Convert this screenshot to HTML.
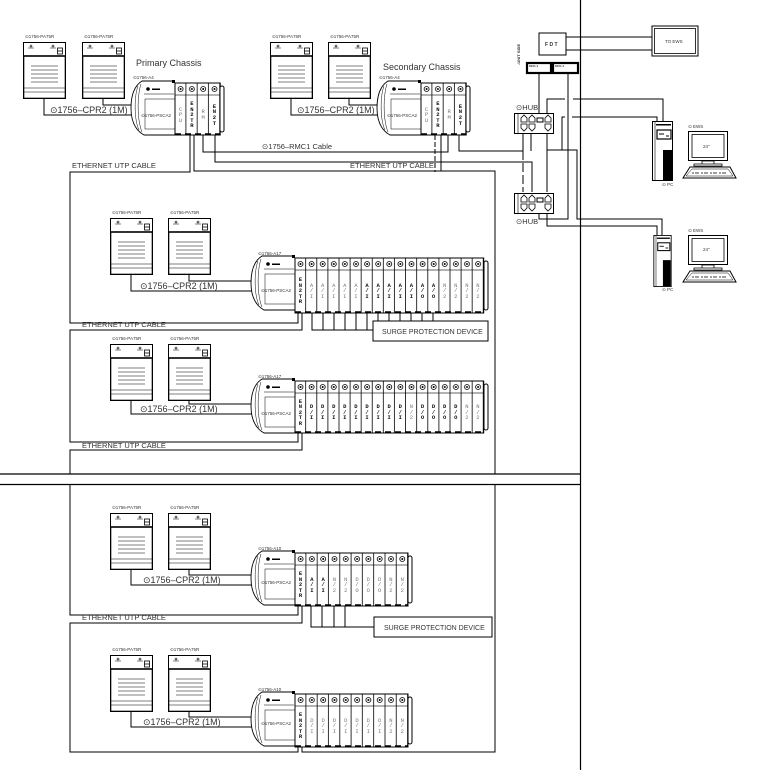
<!DOCTYPE html>
<html><head><meta charset="utf-8"><style>
body{margin:0;width:768px;height:770px;position:relative;background:#fff;overflow:hidden}
svg{position:absolute;left:0;top:0}
.t{font-family:"Liberation Sans","DejaVu Sans",sans-serif;fill:#333}
.r{position:absolute;display:flex}
.r>div{display:flex;align-items:center;justify-content:center;flex:none}
.r span{display:block;width:3px;margin-left:-0.5px;word-break:break-all;overflow-wrap:anywhere;font:bold 5.5px/5.6px "Liberation Mono",monospace;color:#111;text-align:left}
.r span.g{color:#777;font-weight:normal}
</style></head><body>
<svg width="768" height="770" viewBox="0 0 768 770">
<defs>
<pattern id="pA" patternUnits="userSpaceOnUse" x="175" y="83" width="11.3" height="200"><rect width="11.3" height="200" fill="#fff"/><line x1="10.9" y1="0" x2="10.9" y2="200" stroke="#000" stroke-width=".8"/><line x1="0" y1="12" x2="11.3" y2="12" stroke="#000" stroke-width=".6"/><circle cx="5.6" cy="6" r="2.5" fill="none" stroke="#000" stroke-width=".8"/><circle cx="5.6" cy="6" r="1" fill="#000"/></pattern>
<pattern id="pB" patternUnits="userSpaceOnUse" x="421" y="83" width="11.3" height="200"><rect width="11.3" height="200" fill="#fff"/><line x1="10.9" y1="0" x2="10.9" y2="200" stroke="#000" stroke-width=".8"/><line x1="0" y1="12" x2="11.3" y2="12" stroke="#000" stroke-width=".6"/><circle cx="5.6" cy="6" r="2.5" fill="none" stroke="#000" stroke-width=".8"/><circle cx="5.6" cy="6" r="1" fill="#000"/></pattern>
<pattern id="pC" patternUnits="userSpaceOnUse" x="295" y="258" width="11.1" height="200"><rect width="11.1" height="200" fill="#fff"/><line x1="10.7" y1="0" x2="10.7" y2="200" stroke="#000" stroke-width=".8"/><line x1="0" y1="12" x2="11.1" y2="12" stroke="#000" stroke-width=".6"/><circle cx="5.5" cy="6" r="2.5" fill="none" stroke="#000" stroke-width=".8"/><circle cx="5.5" cy="6" r="1" fill="#000"/></pattern>
<pattern id="pD" patternUnits="userSpaceOnUse" x="295" y="381" width="11.1" height="200"><rect width="11.1" height="200" fill="#fff"/><line x1="10.7" y1="0" x2="10.7" y2="200" stroke="#000" stroke-width=".8"/><line x1="0" y1="12" x2="11.1" y2="12" stroke="#000" stroke-width=".6"/><circle cx="5.5" cy="6" r="2.5" fill="none" stroke="#000" stroke-width=".8"/><circle cx="5.5" cy="6" r="1" fill="#000"/></pattern>
<pattern id="pE" patternUnits="userSpaceOnUse" x="295" y="553" width="11.3" height="200"><rect width="11.3" height="200" fill="#fff"/><line x1="10.9" y1="0" x2="10.9" y2="200" stroke="#000" stroke-width=".8"/><line x1="0" y1="12" x2="11.3" y2="12" stroke="#000" stroke-width=".6"/><circle cx="5.6" cy="6" r="2.5" fill="none" stroke="#000" stroke-width=".8"/><circle cx="5.6" cy="6" r="1" fill="#000"/></pattern>
<pattern id="pF" patternUnits="userSpaceOnUse" x="295" y="694" width="11.3" height="200"><rect width="11.3" height="200" fill="#fff"/><line x1="10.9" y1="0" x2="10.9" y2="200" stroke="#000" stroke-width=".8"/><line x1="0" y1="12" x2="11.3" y2="12" stroke="#000" stroke-width=".6"/><circle cx="5.6" cy="6" r="2.5" fill="none" stroke="#000" stroke-width=".8"/><circle cx="5.6" cy="6" r="1" fill="#000"/></pattern>
<symbol id="body" viewBox="0 0 45 56" width="45" height="56">
<path d="M12,1 H45 V55 H14 C5,50 1,40 1,28 C1,15 4,6 12,1 Z" fill="#fff" stroke="#000" stroke-width=".9"/>
<path d="M8,6 C4,16 4,40 9,50" fill="none" stroke="#000" stroke-width=".5"/>
<path d="M11,4 C7,16 7,40 12,52" fill="none" stroke="#000" stroke-width=".5"/>
<line x1="14" y1="14" x2="44" y2="14" stroke="#000" stroke-width=".6"/>
<rect x="15" y="19" width="30" height="30" fill="none" stroke="#000" stroke-width=".5"/>
<circle cx="18" cy="9" r="1.8" fill="#000"/>
<rect x="22" y="8.5" width="8" height="1.5" fill="#000"/>
<rect x="42" y="0" width="3" height="3" fill="#000"/>
</symbol>
<symbol id="ps" viewBox="0 0 43 57" width="43" height="57">
<rect x=".5" y=".5" width="42" height="56" fill="#fff" stroke="#000"/>
<rect x=".5" y="14" width="42" height="42.5" fill="none" stroke="#000" stroke-width="1.6"/>
<circle cx="8" cy="4" r="1" fill="none" stroke="#000" stroke-width=".6"/><circle cx="30" cy="4" r="1" fill="none" stroke="#000" stroke-width=".6"/>
<line x1="5" y1="6" x2="11" y2="6" stroke="#000" stroke-width=".5"/><line x1="27" y1="6" x2="33" y2="6" stroke="#000" stroke-width=".5"/>
<rect x="34.5" y="6" width="5" height="6" fill="none" stroke="#000" stroke-width=".8"/><line x1="34.5" y1="9" x2="39.5" y2="9" stroke="#000" stroke-width=".8"/>
<g stroke="#000" stroke-width=".6"><line x1="8" y1="24" x2="35" y2="24"/><line x1="8" y1="28" x2="35" y2="28"/><line x1="8" y1="32" x2="35" y2="32"/><line x1="8" y1="36" x2="35" y2="36"/><line x1="8" y1="40" x2="35" y2="40"/><line x1="1" y1="46" x2="42" y2="46"/><line x1="1" y1="50" x2="42" y2="50"/></g>
</symbol>
<symbol id="hub" viewBox="0 0 40 21" width="40" height="21">
<rect x=".5" y=".5" width="39" height="20" fill="#fff" stroke="#000"/>
<line x1="4" y1="1" x2="4" y2="20" stroke="#000" stroke-width=".6"/>
<g fill="none" stroke="#000" stroke-width=".8"><path d="M7,9 V5 L10,2 L13,5 V9 Z"/><path d="M15,9 V5 L18,2 L21,5 V9 Z"/><path d="M31,9 V5 L34,2 L37,5 V9 Z"/><path d="M7,11 V15 L10,18 L13,15 V11 Z"/><path d="M15,11 V15 L18,18 L21,15 V11 Z"/><path d="M31,11 V15 L34,18 L37,15 V11 Z"/></g>
<rect x="23" y="5" width="6" height="4" fill="none" stroke="#000"/>
</symbol>
<symbol id="pc" viewBox="0 0 21 60" width="21" height="60">
<rect x=".5" y=".5" width="20" height="59" fill="#fff" stroke="#000"/>
<line x1="3" y1="1" x2="3" y2="59" stroke="#000" stroke-width=".6"/>
<rect x="4" y="3" width="15" height="1.5" fill="#000"/>
<rect x="5" y="9" width="14" height="9" fill="none" stroke="#000" stroke-width="1.2"/>
<line x1="7" y1="13" x2="12" y2="13" stroke="#000"/><line x1="14" y1="15" x2="17" y2="15" stroke="#000"/>
<rect x="11" y="29" width="9" height="30" fill="#000"/>
</symbol>
<symbol id="mon" viewBox="-6 0 56 50" width="56" height="50">
<rect x=".5" y=".5" width="39" height="29" fill="#fff" stroke="#000"/>
<rect x="4" y="3.5" width="32" height="23" fill="none" stroke="#000" stroke-width=".8"/>
<path d="M14,30 H26 V33 H14 Z M6,33 H34 V35 H6 Z" fill="none" stroke="#000" stroke-width=".8"/>
<polygon points="-5,47 48,47 42,36 2,36" fill="#fff" stroke="#000"/>
<polygon points="-2,45 45,45 40,38 4,38" fill="none" stroke="#000" stroke-width=".5"/>
<line x1="4" y1="42" x2="40" y2="42" stroke="#000" stroke-width=".8" stroke-dasharray="2 1 4 2"/>
</symbol>
</defs>

<g stroke="#000" stroke-width="1.2" fill="none">
<line x1="580.5" y1="0" x2="580.5" y2="770"/>
<line x1="0" y1="474" x2="580" y2="474"/>
<line x1="0" y1="484.5" x2="580" y2="484.5"/>
</g>

<g stroke="#000" stroke-width="1" fill="none">
<path d="M190,135 V172 H70 V323 H298 V313"/>
<path d="M194,135 V171 H495 V474"/>
<path d="M302,313 V330 H70 V442 H298 V433"/>
<path d="M302,433 V450 H70 V474"/>
<path d="M70,485 V615 H298 V606"/>
<path d="M302,606 V623 H70 V752 H298 V747"/>
<path d="M302,747 V752 H495 V485"/>
<path d="M441,135 V171"/>
<path d="M435,135 V172" stroke-dasharray="5 2"/>
<path d="M203,135 V152 H448 V135"/>
<path d="M215,135 V162 H532 V192"/>
<path d="M459,135 V151 H523"/>
<path d="M523,134 V151"/><path d="M523,151 V192" stroke-dasharray="9 3"/>
<path d="M531,134 V151"/>
<path d="M547,192 V134"/>
<path d="M547,150 H577 V219 H662 V235"/>
<path d="M547,113 V99 H565 M573,99 H663 V121"/>
<path d="M562,150 V117 H565 M572,117 H657 V121"/>
<path d="M547,214 V226 H657 V235"/>
<path d="M539,73 V113"/>
<path d="M568,73 V219 H539 V214"/>
<path d="M566,37 H652 M566,50 H652"/>
<path d="M44,98 V115 H132 M103,98 V105 H132"/>
<path d="M291,98 V115 H378 M349,98 V105 H378"/>
<path d="M131,274 V291 H252 M189,274 V281 H252"/>
<path d="M131,400 V414 H252 M189,400 V404 H252"/>
<path d="M131,569 V585 H252 M189,569 V575 H252"/>
<path d="M131,711 V727 H252 M189,711 V717 H252"/>
<path d="M312,313 V330 H373 M323,313 V330 M334,313 V330 M345,313 V330 M356,313 V330 M367,313 V330 M378,313 V321 M389,313 V321 M400,313 V321 M411,313 V321 M422,313 V321 M433,313 V321"/>
<path d="M311,606 V627 H374 M322,606 V627 M334,606 V627 M345,606 V627"/>
<rect x="373" y="321" width="115" height="20"/>
<rect x="374" y="617" width="118" height="20"/>
<rect x="539" y="33" width="27" height="22" fill="#fff"/>
<rect x="652" y="26" width="46" height="30"/>
<rect x="654.5" y="28.5" width="41" height="25" stroke-width=".8"/>
<rect x="527" y="63" width="24" height="10" stroke-width="2.2" fill="#fff"/>
<rect x="553" y="63" width="25" height="10" stroke-width="2.2" fill="#fff"/>
</g>

<use href="#ps" x="23" y="42"/><use href="#ps" x="82" y="42"/>
<use href="#ps" x="270" y="42"/><use href="#ps" x="328" y="42"/>
<use href="#ps" x="110" y="218"/><use href="#ps" x="168" y="218"/>
<use href="#ps" x="110" y="344"/><use href="#ps" x="168" y="344"/>
<use href="#ps" x="110" y="513"/><use href="#ps" x="168" y="513"/>
<use href="#ps" x="110" y="655"/><use href="#ps" x="168" y="655"/>

<use href="#body" x="130" y="80"/><use href="#body" x="376" y="80"/>
<use href="#body" x="250" y="255"/><use href="#body" x="250" y="378"/>
<use href="#body" x="250" y="550"/><use href="#body" x="250" y="691"/>
<g stroke="#000" stroke-width="1">
<rect x="175" y="83" width="45.2" height="52" fill="url(#pA)"/>
<rect x="421" y="83" width="45.2" height="52" fill="url(#pB)"/>
<rect x="295" y="258" width="188.7" height="55" fill="url(#pC)"/>
<rect x="295" y="381" width="188.7" height="52" fill="url(#pD)"/>
<rect x="295" y="553" width="113" height="53" fill="url(#pE)"/>
<rect x="295" y="694" width="113" height="53" fill="url(#pF)"/>
<g fill="#fff"><rect x="220" y="86" width="4" height="46" rx="2"/><rect x="466" y="86" width="4" height="46" rx="2"/><rect x="484" y="261" width="4" height="49" rx="2"/><rect x="484" y="384" width="4" height="46" rx="2"/><rect x="408" y="556" width="4" height="47" rx="2"/><rect x="408" y="697" width="4" height="47" rx="2"/></g>
</g>
<g stroke="#000" stroke-width="1.6" stroke-dasharray="6 4"><line x1="175" y1="134" x2="220" y2="134"/><line x1="421" y1="134" x2="466" y2="134"/><line x1="295" y1="312" x2="484" y2="312"/><line x1="295" y1="432" x2="484" y2="432"/><line x1="295" y1="605" x2="408" y2="605"/><line x1="295" y1="746" x2="408" y2="746"/></g>

<use href="#hub" x="514" y="113"/><use href="#hub" x="514" y="193"/>
<use href="#pc" x="652" y="121"/><use href="#pc" x="652" y="235" height="52"/>
<use href="#mon" x="682" y="131"/><use href="#mon" x="682" y="235"/>

<g class="t" font-size="4.5">
<text x="25" y="38">⊙1756-PA75R</text><text x="84" y="38">⊙1756-PA75R</text>
<text x="272" y="38">⊙1756-PA75R</text><text x="330" y="38">⊙1756-PA75R</text>
<text x="112" y="214">⊙1756-PA75R</text><text x="170" y="214">⊙1756-PA75R</text>
<text x="112" y="340">⊙1756-PA75R</text><text x="170" y="340">⊙1756-PA75R</text>
<text x="112" y="509">⊙1756-PA75R</text><text x="170" y="509">⊙1756-PA75R</text>
<text x="112" y="651">⊙1756-PA75R</text><text x="170" y="651">⊙1756-PA75R</text>
<text x="133" y="79">⊙1756-A4</text><text x="379" y="79">⊙1756-A4</text>
<text x="258" y="255">⊙1756-A17</text><text x="258" y="378">⊙1756-A17</text>
<text x="258" y="550">⊙1756-A10</text><text x="258" y="691">⊙1756-A10</text>
<text x="141" y="117">⊙1756-PSCA2</text><text x="387" y="117">⊙1756-PSCA2</text>
<text x="261" y="292">⊙1756-PSCA2</text><text x="261" y="415">⊙1756-PSCA2</text>
<text x="261" y="584">⊙1756-PSCA2</text><text x="261" y="725">⊙1756-PSCA2</text>
<text x="662" y="186">⊙ PC</text><text x="662" y="291">⊙ PC</text>
<text x="688" y="128">⊙ EWS</text><text x="688" y="232">⊙ EWS</text>
<text x="703" y="148">24"</text><text x="703" y="251">24"</text>
<text x="665" y="43">TO EWS</text>
</g>
<g class="t" font-size="9">
<text x="136" y="66">Primary Chassis</text>
<text x="383" y="70">Secondary Chassis</text>
<text x="50" y="113">⊙1756–CPR2 (1M)</text>
<text x="297" y="113">⊙1756–CPR2 (1M)</text>
<text x="140" y="289">⊙1756–CPR2 (1M)</text>
<text x="140" y="412">⊙1756–CPR2 (1M)</text>
<text x="143" y="583">⊙1756–CPR2 (1M)</text>
<text x="143" y="725">⊙1756–CPR2 (1M)</text>
</g>
<g class="t" font-size="7.5">
<text x="262" y="149">⊙1756–RMC1 Cable</text>
<text x="72" y="168">ETHERNET UTP CABLE</text>
<text x="350" y="168">ETHERNET UTP CABLE</text>
<text x="82" y="327">ETHERNET UTP CABLE</text>
<text x="82" y="448">ETHERNET UTP CABLE</text>
<text x="82" y="620">ETHERNET UTP CABLE</text>
<text x="516" y="110">⊙HUB</text>
<text x="516" y="224">⊙HUB</text>
</g>
<g class="t" font-size="7" fill="#111">
<text x="382" y="334">SURGE  PROTECTION  DEVICE</text>
<text x="384" y="630">SURGE  PROTECTION  DEVICE</text>
</g>
<text class="t" x="545" y="46" font-size="5" font-weight="bold">F D T</text>
<text class="t" x="529" y="67" font-size="3" font-weight="bold">8101-1</text>
<text class="t" x="555" y="67" font-size="3" font-weight="bold">8101-1</text>
<text class="t" font-size="4" font-weight="bold" transform="translate(520,65) rotate(-90)">-UNIT SIDE</text>
</svg>

<div class="r" style="left:175px;top:96px;height:38px">
<div style="width:11.3px"><span class="g">CPU</span></div><div style="width:11.3px"><span>EN2TR</span></div><div style="width:11.3px"><span class="g">RM</span></div><div style="width:11.3px"><span>EN2T</span></div></div>
<div class="r" style="left:421px;top:96px;height:38px">
<div style="width:11.3px"><span class="g">CPU</span></div><div style="width:11.3px"><span>EN2TR</span></div><div style="width:11.3px"><span class="g">RM</span></div><div style="width:11.3px"><span>EN2T</span></div></div>

<div class="r" style="left:295px;top:272px;height:38px">
<div style="width:11.1px"><span>EN2TR</span></div>
<div style="width:11.1px"><span class="g">A/I</span></div><div style="width:11.1px"><span class="g">A/I</span></div><div style="width:11.1px"><span class="g">A/I</span></div><div style="width:11.1px"><span class="g">A/I</span></div><div style="width:11.1px"><span class="g">A/I</span></div>
<div style="width:11.1px"><span>A/I</span></div><div style="width:11.1px"><span>A/I</span></div><div style="width:11.1px"><span>A/I</span></div><div style="width:11.1px"><span>A/I</span></div><div style="width:11.1px"><span>A/I</span></div>
<div style="width:11.1px"><span>A/O</span></div><div style="width:11.1px"><span>A/O</span></div>
<div style="width:11.1px"><span class="g">N/2</span></div><div style="width:11.1px"><span class="g">N/2</span></div><div style="width:11.1px"><span class="g">N/2</span></div><div style="width:11.1px"><span class="g">N/2</span></div></div>

<div class="r" style="left:295px;top:394px;height:37px">
<div style="width:11.1px"><span>EN2TR</span></div>
<div style="width:11.1px"><span>D/I</span></div><div style="width:11.1px"><span>D/I</span></div><div style="width:11.1px"><span>D/I</span></div><div style="width:11.1px"><span>D/I</span></div><div style="width:11.1px"><span>D/I</span></div><div style="width:11.1px"><span>D/I</span></div><div style="width:11.1px"><span>D/I</span></div><div style="width:11.1px"><span>D/I</span></div><div style="width:11.1px"><span>D/I</span></div>
<div style="width:11.1px"><span class="g">N/2</span></div>
<div style="width:11.1px"><span>D/O</span></div><div style="width:11.1px"><span>D/O</span></div><div style="width:11.1px"><span>D/O</span></div><div style="width:11.1px"><span>D/O</span></div>
<div style="width:11.1px"><span class="g">N/2</span></div><div style="width:11.1px"><span class="g">N/2</span></div></div>

<div class="r" style="left:295px;top:566px;height:38px">
<div style="width:11.3px"><span>EN2TR</span></div>
<div style="width:11.3px"><span>A/I</span></div><div style="width:11.3px"><span>A/I</span></div>
<div style="width:11.3px"><span class="g">N/2</span></div><div style="width:11.3px"><span class="g">N/2</span></div>
<div style="width:11.3px"><span class="g">D/O</span></div><div style="width:11.3px"><span class="g">D/O</span></div><div style="width:11.3px"><span class="g">D/O</span></div>
<div style="width:11.3px"><span class="g">N/2</span></div><div style="width:11.3px"><span class="g">N/2</span></div></div>

<div class="r" style="left:295px;top:707px;height:38px">
<div style="width:11.3px"><span>EN2TR</span></div>
<div style="width:11.3px"><span class="g">D/I</span></div><div style="width:11.3px"><span class="g">D/I</span></div><div style="width:11.3px"><span class="g">D/I</span></div><div style="width:11.3px"><span class="g">D/I</span></div><div style="width:11.3px"><span class="g">D/I</span></div><div style="width:11.3px"><span class="g">D/I</span></div><div style="width:11.3px"><span class="g">D/I</span></div>
<div style="width:11.3px"><span class="g">N/2</span></div><div style="width:11.3px"><span class="g">N/2</span></div></div>
</body></html>
